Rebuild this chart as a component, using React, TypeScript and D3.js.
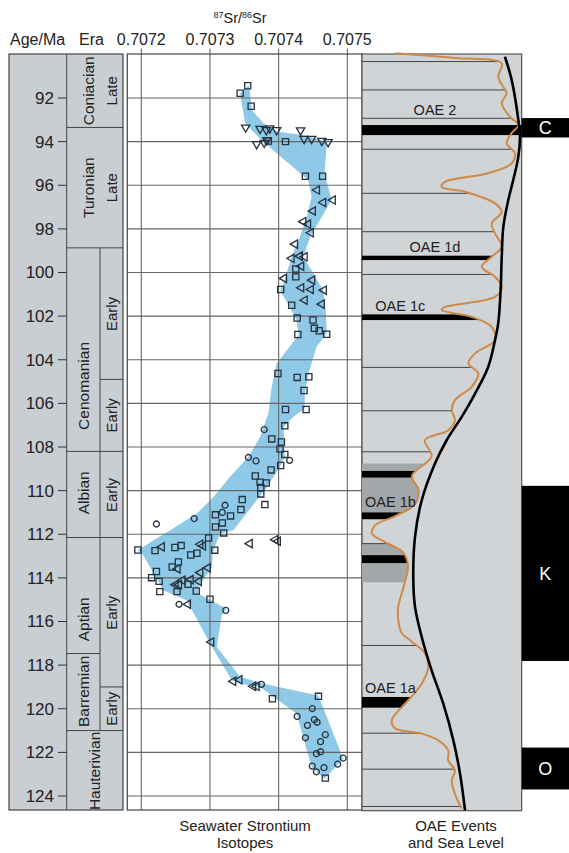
import React from "react";
import * as d3 from "d3";

// ---- data (ages in Ma, Sr as 87Sr/86Sr) ----
const srTicks = [0.7072, 0.7073, 0.7074, 0.7075];
const ageTicks = [92, 94, 96, 98, 100, 102, 104, 106, 108, 110, 112, 114, 116, 118, 120, 122, 124];

const stageBounds = [93.35, 98.87, 108.2, 112.15, 117.47, 121.0];
const eraBounds = [93.35, 98.87, 104.9, 108.2, 112.15, 119.0, 121.0];
const stageLabels: [string, number][] = [
  ["Coniacian", 91.67], ["Turonian", 96.11], ["Cenomanian", 105.2], ["Albian", 110.1],
  ["Aptian", 115.9], ["Barremian", 119.2], ["Hauterivian", 122.85],
];
const eraLabels: [string, number][] = [
  ["Late", 91.67], ["Late", 96.11], ["Early", 101.9], ["Early", 106.55],
  ["Early", 110.2], ["Early", 115.6], ["Early", 120.0],
];

// [age, Sr]
const squares: [number, number][] = [
  [91.44, 0.707355], [91.78, 0.707344], [92.38, 0.70736], [93.97, 0.707385], [94.0, 0.70741],
  [95.59, 0.707439], [95.59, 0.707464], [99.84, 0.707425], [100.2, 0.707425], [100.78, 0.707403],
  [101.5, 0.707419], [102.09, 0.707427], [102.18, 0.70745], [102.56, 0.707452], [102.67, 0.707459],
  [102.83, 0.70747], [102.84, 0.707428], [104.63, 0.707399], [104.81, 0.707427], [104.78, 0.707444],
  [105.41, 0.707437], [106.28, 0.70741], [106.28, 0.70744], [107.03, 0.707409], [107.63, 0.70739],
  [107.77, 0.707404], [108.09, 0.707402], [108.34, 0.707409], [108.85, 0.707403], [109.05, 0.707389],
  [109.33, 0.707366], [109.61, 0.707373], [109.65, 0.707382], [109.86, 0.707374], [110.15, 0.707374],
  [110.64, 0.70738], [110.41, 0.707347], [110.87, 0.707345], [111.11, 0.707308], [111.16, 0.70733],
  [111.48, 0.707318], [111.67, 0.707308], [111.94, 0.70732], [112.17, 0.707298], [112.72, 0.707195],
  [112.75, 0.70722], [112.61, 0.707249], [112.52, 0.707258], [112.73, 0.707307], [112.95, 0.707272],
  [112.87, 0.707281], [113.27, 0.707254], [113.5, 0.707245], [113.71, 0.707222], [113.99, 0.707215],
  [114.16, 0.707226], [114.63, 0.707227], [114.29, 0.707268], [114.63, 0.707252], [114.6, 0.70728],
  [114.98, 0.7073], [119.54, 0.707391], [119.43, 0.707458], [123.18, 0.707468],
];
const downTriangles: [number, number][] = [
  [93.35, 0.707352], [93.41, 0.707373], [93.47, 0.707382], [93.39, 0.707387], [93.47, 0.707397],
  [93.48, 0.707432], [93.87, 0.707437], [93.87, 0.707448], [93.96, 0.707463], [94.02, 0.707472],
  [94.11, 0.707368], [94.05, 0.707379], [93.93, 0.707383],
];
const leftTriangles: [number, number][] = [
  [96.22, 0.707456], [96.68, 0.707479], [96.79, 0.707465], [97.18, 0.70745], [97.67, 0.707436],
  [97.78, 0.707443], [98.18, 0.707447], [98.7, 0.707424], [99.35, 0.707419], [99.25, 0.707431],
  [99.28, 0.707438], [99.71, 0.707433], [100.27, 0.707408], [100.35, 0.707449], [100.7, 0.707433],
  [100.78, 0.707447], [100.81, 0.707466], [101.27, 0.707438], [101.45, 0.707463], [112.58, 0.70723],
  [112.46, 0.707286], [112.54, 0.70729], [112.43, 0.707358], [112.25, 0.707395], [112.32, 0.707399],
  [113.59, 0.707253], [113.54, 0.707297], [113.76, 0.707286], [114.31, 0.70725], [114.31, 0.707255],
  [114.11, 0.70726], [114.08, 0.707272], [114.16, 0.707284], [115.21, 0.707268], [116.94, 0.707302],
  [118.74, 0.707334], [118.67, 0.707343], [118.97, 0.707363], [118.97, 0.707368],
];
const circles: [number, number][] = [
  [107.2, 0.707379], [108.61, 0.707416], [108.48, 0.707356], [108.64, 0.707367], [110.67, 0.707322],
  [111.0, 0.707318], [111.28, 0.707277], [111.53, 0.707222], [115.21, 0.707255], [115.49, 0.707323],
  [118.88, 0.707375], [120.35, 0.707427], [119.99, 0.707449], [120.5, 0.707452], [120.62, 0.707456],
  [120.76, 0.707442], [121.19, 0.707468], [121.33, 0.707439], [121.51, 0.707461], [121.97, 0.707461],
  [122.06, 0.707455], [122.26, 0.707494], [122.54, 0.707486], [122.63, 0.707449], [122.7, 0.707466],
  [122.89, 0.707455],
];

// outline of the Sr envelope [age, Sr]
const envelope: [number, number][] = [
  [91.4, 0.707357], [92.55, 0.707361], [93.16, 0.707378], [93.55, 0.707399], [93.7, 0.707436],
  [94.0, 0.70747], [95.45, 0.707467], [96.68, 0.707477], [97.6, 0.70746], [98.36, 0.707446],
  [99.28, 0.707436], [100.81, 0.707465], [101.88, 0.707469], [102.79, 0.70747], [103.41, 0.707455],
  [104.71, 0.707443], [105.55, 0.707438], [106.23, 0.707438], [106.62, 0.707421], [107.08, 0.707407],
  [108.45, 0.707409], [108.91, 0.707402], [109.83, 0.707383], [111.05, 0.707353], [111.82, 0.707334],
  [111.97, 0.707315], [112.81, 0.707304], [113.5, 0.707303], [114.42, 0.707283], [114.72, 0.707283],
  [115.41, 0.707324], [115.72, 0.707317], [117.17, 0.70731], [118.55, 0.707344], [118.85, 0.707378],
  [119.39, 0.707458], [122.29, 0.707494], [123.21, 0.707467], [122.67, 0.707448], [120.22, 0.707426],
  [119.0, 0.707373], [118.85, 0.707344], [118.7, 0.707332], [117.01, 0.7073], [115.03, 0.707266],
  [114.57, 0.707232], [112.96, 0.707203], [112.72, 0.707195], [112.28, 0.707218], [111.82, 0.707242],
  [111.05, 0.707281], [110.29, 0.707305], [109.37, 0.707329], [108.45, 0.707356], [107.54, 0.707373],
  [106.46, 0.707385], [105.24, 0.70739], [104.17, 0.707397], [103.56, 0.707412], [102.87, 0.707429],
  [102.18, 0.707426], [101.57, 0.707416], [100.81, 0.707402], [100.5, 0.707407], [99.28, 0.707419],
  [98.36, 0.707431], [97.45, 0.707441], [96.53, 0.707448], [95.76, 0.707443], [94.08, 0.70738],
  [93.16, 0.707351], [91.78, 0.707344],
];

// sea level curves [age, relative level 0-100]
const shortTermSea: [number, number][] = [
  [89.95, 20.7], [90.17, 58.2], [90.41, 87.5], [91.02, 85.3], [91.48, 88.3], [91.78, 90.6],
  [92.24, 87.5], [92.86, 92.7], [93.24, 97.9], [93.61, 93.7], [94.08, 90.6], [94.54, 95.8],
  [95.0, 93.7], [95.45, 79.1], [95.84, 52.0], [96.07, 49.9], [96.3, 64.5], [96.83, 83.3],
  [97.22, 87.5], [97.75, 81.2], [98.21, 83.3], [98.82, 87.5], [99.28, 81.2], [99.74, 75.0],
  [100.2, 83.3], [100.66, 87.5], [101.12, 83.3], [101.58, 52.0], [101.72, 49.9], [102.03, 68.7],
  [102.49, 81.2], [103.1, 83.3], [103.71, 70.8], [104.17, 66.6], [104.63, 72.8], [105.24, 68.7],
  [105.85, 58.2], [106.31, 56.2], [106.77, 58.2], [107.23, 54.0], [107.69, 39.4], [108.42, 43.6],
  [109.33, 31.3], [109.98, 35.5], [110.67, 32.6], [111.17, 20.7], [111.59, 8.1], [111.97, 6.3],
  [112.38, 15.0], [112.83, 25.7], [113.43, 28.8], [114.34, 26.3], [115.33, 22.7], [115.94, 22.7],
  [116.54, 24.9], [116.86, 30.1], [117.46, 39.4], [118.09, 41.5], [118.85, 37.4], [119.61, 29.0],
  [120.53, 18.6], [120.9, 20.7], [121.14, 37.4], [121.45, 47.8], [121.91, 54.0], [122.37, 54.0],
  [122.83, 58.2], [123.28, 56.2], [123.9, 58.2], [124.57, 62.4],
];
const longTermSea: [number, number][] = [
  [90.11, 89.5], [91.17, 93.7], [93.01, 97.9], [93.78, 98.9], [94.69, 97.9], [95.76, 94.7],
  [96.68, 91.6], [97.9, 88.5], [99.28, 87.5], [100.81, 86.8], [102.33, 85.3], [103.1, 83.3],
  [104.33, 79.0], [105.55, 70.8], [106.62, 62.4], [107.69, 53.0], [108.76, 45.7], [110.44, 37.4],
  [112.12, 33.2], [113.96, 32.1], [115.33, 33.2], [116.71, 37.4], [118.24, 43.6], [119.77, 50.9],
  [121.45, 57.2], [122.98, 61.4], [124.66, 64.5],
];

const seqLines = [90.33, 91.63, 92.93, 94.35, 96.37, 98.13, 100.09, 104.35, 106.34, 108.22, 112.43, 117.1, 121.12, 122.77, 124.48];
const greyBands: [number, number][] = [[108.76, 111.31], [112.43, 114.2]];
const oaeBars: [number, number][] = [[99.23, 99.43], [101.92, 102.18], [109.1, 109.4], [111.0, 111.31], [112.96, 113.32], [119.46, 119.95]];
const oae2: [number, number] = [93.24, 93.7];
const oaeNames = ["OAE 2", "OAE 1d", "OAE 1c", "OAE 1b", "OAE 1a"];
const oaeLabelAges = [93.24, 99.23, 101.92, 111.0, 119.46];
const chrons: [string, number, number][] = [["C", 92.92, 93.81], ["K", 109.78, 117.81], ["O", 121.78, 123.7]];

const FONT = "'Liberation Sans', Arial, sans-serif";

export default function App() {
  const yTop = 54, yBot = 810;
  const colL = 9, colStage = 66.7, colEra = 100, colR = 123;
  const plotL = 127.3, plotR = 362;
  const panelL = 362, panelR = 521.7, boxR = 569;

  const y = d3.scaleLinear().domain([92, 124]).range([98, 796]);
  const x = d3.scaleLinear().domain([0.7072, 0.7075]).range([141.3, 347.3]);
  const sea = d3.scaleLinear().domain([0, 100]).range([panelL, panelR]);

  const envPath = d3.line<[number, number]>().x((d) => x(d[1])).y((d) => y(d[0])).curve(d3.curveLinearClosed)(envelope) || "";
  const seaLine = d3.line<[number, number]>().x((d) => sea(d[1])).y((d) => y(d[0])).curve(d3.curveCatmullRom);
  const clipArea = d3.area<[number, number]>().y((d) => y(d[0])).x0(panelL).x1((d) => sea(d[1])).curve(d3.curveCatmullRom);

  const sq = d3.symbol().type(d3.symbolSquare).size(38)() || "";
  const ci = d3.symbol().type(d3.symbolCircle).size(28)() || "";
  const tri = d3.symbol().type(d3.symbolTriangle).size(30)() || "";
  const mk = "#27313c";

  const labelPos: [number, string][] = [
    [sea(45.7), "middle"], [sea(45.7), "middle"], [sea(24), "middle"], [365, "start"], [365, "start"],
  ];

  return (
    <svg width={569} height={853} style={{ position: "absolute", left: 0, top: 0, background: "#fff" }} fontFamily={FONT}>
      <defs>
        <clipPath id="orangeClip">
          <path d={clipArea([[89.9, 20.7], ...shortTermSea, [124.8, 62.4]]) || ""} />
        </clipPath>
      </defs>

      {/* headers */}
      <text x={10} y={45} fontSize={16} fill="#222">Age/Ma</text>
      <text x={79} y={45} fontSize={16} fill="#222">Era</text>
      <text x={240} y={22.5} fontSize={14.5} fill="#222" textAnchor="middle">
        <tspan fontSize={9} dy={-5}>87</tspan>
        <tspan dy={5}>Sr/</tspan>
        <tspan fontSize={9} dy={-5}>86</tspan>
        <tspan dy={5}>Sr</tspan>
      </text>
      {srTicks.map((t) => (
        <g key={t}>
          <text x={x(t)} y={45} fontSize={16} fill="#222" textAnchor="middle">{t.toFixed(4)}</text>
          <line x1={x(t)} x2={x(t)} y1={48.5} y2={yTop} stroke="#555" />
        </g>
      ))}

      {/* stratigraphic column */}
      <rect x={colL} y={yTop} width={colR - colL} height={yBot - yTop} fill="#c8ced2" stroke="#444" strokeWidth={1.2} />
      <line x1={colStage} x2={colStage} y1={yTop} y2={yBot} stroke="#444" />
      <line x1={colEra} x2={colEra} y1={y(98.87)} y2={y(121.0)} stroke="#444" />
      {stageBounds.map((a) => (
        <line key={"s" + a} x1={colStage} x2={colEra} y1={y(a)} y2={y(a)} stroke="#444" />
      ))}
      {eraBounds.map((a) => (
        <line key={"e" + a} x1={colEra} x2={colR} y1={y(a)} y2={y(a)} stroke="#444" />
      ))}
      {ageTicks.map((t) => (
        <g key={"a" + t}>
          <line x1={58} x2={colStage} y1={y(t)} y2={y(t)} stroke="#333" />
          <text x={54} y={y(t)} dy="0.35em" fontSize={17} fill="#222" textAnchor="end">{t}</text>
        </g>
      ))}
      {stageLabels.map(([n, a]) => {
        const cx = a < 98.87 ? 89 : a > 121 ? 95 : 83.5;
        return (
          <text key={n} transform={`translate(${cx},${y(a)}) rotate(-90)`} fontSize={15.5} fill="#222" textAnchor="middle" dy="0.35em">{n}</text>
        );
      })}
      {eraLabels.map(([n, a], i) => (
        <text key={"el" + i} transform={`translate(111.7,${y(a)}) rotate(-90)`} fontSize={15} fill="#222" textAnchor="middle" dy="0.35em">{n}</text>
      ))}

      {/* Sr plot */}
      <rect x={plotL} y={yTop} width={plotR - plotL} height={yBot - yTop} fill="#fff" />
      <path d={envPath} fill="#8ec9e8" />
      {ageTicks.map((t) => (
        <line key={"g" + t} x1={plotL} x2={plotR} y1={y(t)} y2={y(t)} stroke="#666" strokeWidth={1.1} />
      ))}
      {srTicks.map((t) => (
        <line key={"v" + t} x1={x(t)} x2={x(t)} y1={yTop} y2={yBot} stroke="#666" strokeWidth={1.1} />
      ))}
      <rect x={plotL} y={yTop} width={plotR - plotL} height={yBot - yTop} fill="none" stroke="#444" strokeWidth={1.2} />
      {squares.map((d, i) => (
        <path key={"q" + i} d={sq} transform={`translate(${x(d[1])},${y(d[0])})`} fill="none" stroke={mk} strokeWidth={1.3} />
      ))}
      {circles.map((d, i) => (
        <path key={"c" + i} d={ci} transform={`translate(${x(d[1])},${y(d[0])})`} fill="none" stroke={mk} strokeWidth={1.3} />
      ))}
      {downTriangles.map((d, i) => (
        <path key={"d" + i} d={tri} transform={`translate(${x(d[1])},${y(d[0])}) rotate(180)`} fill="none" stroke={mk} strokeWidth={1.3} />
      ))}
      {leftTriangles.map((d, i) => (
        <path key={"l" + i} d={tri} transform={`translate(${x(d[1])},${y(d[0])}) rotate(-90)`} fill="none" stroke={mk} strokeWidth={1.3} />
      ))}

      {/* OAE / sea level panel */}
      <rect x={panelL} y={yTop} width={panelR - panelL} height={yBot + 0.7 - yTop} fill="#d0d4d7" stroke="#555" strokeWidth={1.2} />
      <g clipPath="url(#orangeClip)">
        {greyBands.map(([a, b], i) => (
          <rect key={"gb" + i} x={panelL} y={y(a)} width={panelR - panelL} height={y(b) - y(a)} fill="#a2a7aa" />
        ))}
        {seqLines.map((a) => (
          <line key={"sl" + a} x1={panelL} x2={panelR} y1={y(a)} y2={y(a)} stroke="#444" strokeWidth={1} />
        ))}
        {oaeBars.map(([a, b], i) => (
          <rect key={"ob" + i} x={panelL} y={y(a)} width={panelR - panelL} height={y(b) - y(a)} fill="#000" />
        ))}
      </g>
      <rect x={panelL} y={y(oae2[0])} width={panelR - panelL} height={y(oae2[1]) - y(oae2[0])} fill="#000" />
      <path d={seaLine(shortTermSea) || ""} fill="none" stroke="#cd8a48" strokeWidth={2} />
      <path d={seaLine(longTermSea) || ""} fill="none" stroke="#000" strokeWidth={2.6} />
      {oaeNames.map((n, i) => (
        <text key={n} x={labelPos[i][0]} y={y(oaeLabelAges[i]) - (i === 0 ? 10 : i === 3 ? 5 : 3.5)} fontSize={14.5} fill="#222" textAnchor={labelPos[i][1] as any}>{n}</text>
      ))}
      {chrons.map(([n, a, b]) => (
        <g key={n}>
          <rect x={panelR} y={y(a)} width={boxR - panelR} height={y(b) - y(a)} fill="#000" />
          <text x={(panelR + boxR) / 2} y={(y(a) + y(b)) / 2} dy="0.35em" fontSize={18} fill="#fff" textAnchor="middle">{n}</text>
        </g>
      ))}

      {/* bottom captions */}
      <text x={245} y={831} fontSize={15} fill="#222" textAnchor="middle">Seawater Strontium</text>
      <text x={245} y={848} fontSize={15} fill="#222" textAnchor="middle">Isotopes</text>
      <text x={456} y={831} fontSize={15} fill="#222" textAnchor="middle">OAE Events</text>
      <text x={456} y={848} fontSize={15} fill="#222" textAnchor="middle">and Sea Level</text>
    </svg>
  );
}
